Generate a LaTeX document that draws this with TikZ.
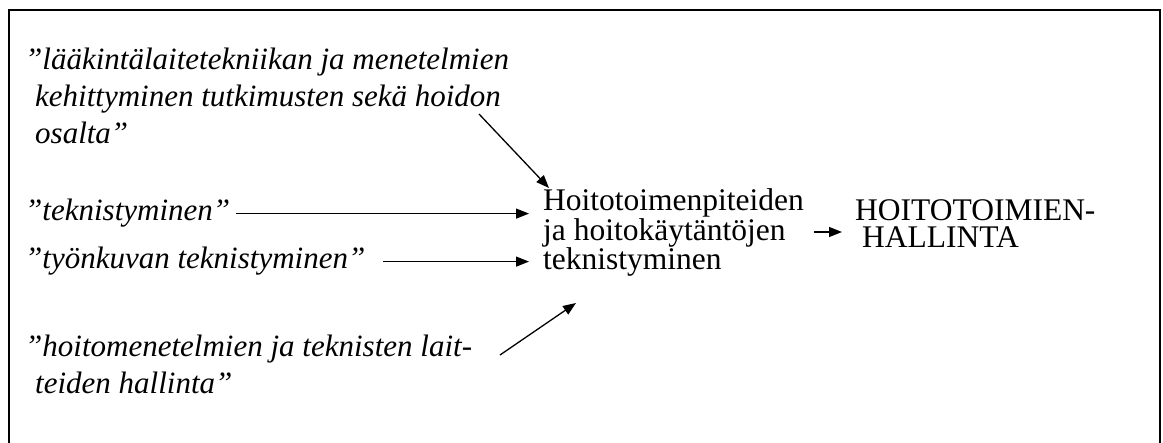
\documentclass[tikz,border=0pt]{standalone}
\usepackage{fontspec}
\setmainfont{Liberation Serif}
\usetikzlibrary{arrows.meta}

\begin{document}
\begin{tikzpicture}[x=1pt,y=-1pt,
  quote/.style={anchor=base west, inner sep=0pt, align=left,
    font=\fontsize{31}{37}\selectfont\itshape},
  core/.style={anchor=base west, inner sep=0pt, align=left,
    font=\fontsize{31.5}{25}\selectfont},
  link/.style={line width=1.3pt, -{Triangle[length=13pt,width=10pt]}},
  frame/.style={line width=2pt}]
\useasboundingbox (0,0) rectangle (1163,443);
\draw[frame] (9,446) -- (9,10) -- (1160,10) -- (1160,446);

% source expressions (multi-line nodes sit on their last baseline)
\node[quote] (dev) at (25,144) {”lääkintälaitetekniikan ja menetelmien\\
  \hspace*{10pt}kehittyminen tutkimusten sekä hoidon\\
  \hspace*{10pt}osalta”};
\node[quote] (tek) at (25,221) {”teknistyminen”};
\node[quote] (work) at (25,269) {”työnkuvan teknistyminen”};
\node[quote] (ctrl) at (25,394) {”hoitomenetelmien ja teknisten lait-\\
  \hspace*{10pt}teiden hallinta”};

% combined category and main category
\node[core] (core) at (543,270) {Hoitotoimenpiteiden\\ja hoitokäytäntöjen\\teknistyminen};
\node[core, font=\fontsize{31.5}{27}\selectfont] (main) at (855,248)
  {HOITOTOIMIEN-\\\hspace*{7pt}HALLINTA};

% connectors
\coordinate (devEnd) at (479,114);
\coordinate (coreTop) at (549,188);
\coordinate (ctrlEnd) at (500,355);
\coordinate (coreLow) at (576,303);
\coordinate (coreRight) at (814,232);
\coordinate (mainLeft) at (842,232);

\draw[link] ([xshift=6pt]tek.east) -- ([xshift=-14pt]tek.east -| core.west);
\draw[link] ([xshift=18pt]work.east) -- ([xshift=-14pt]work.east -| core.west);
\draw[link] (devEnd) -- (coreTop);
\draw[link] (ctrlEnd) -- (coreLow);
\draw[link] (coreRight) -- (mainLeft);
\end{tikzpicture}
\end{document}
